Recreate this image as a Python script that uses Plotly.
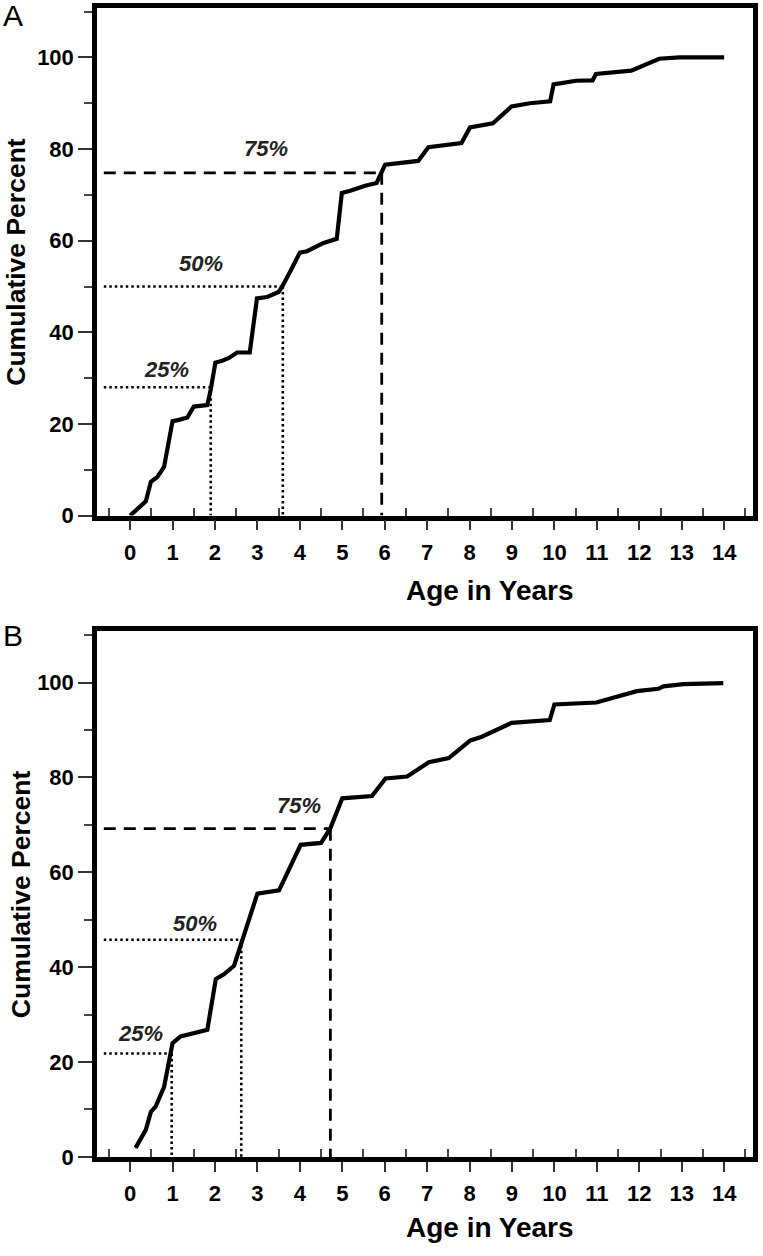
import plotly.graph_objects as go

# ---------------- data ----------------
A_age = [0.0, 0.17, 0.37, 0.49, 0.64, 0.80, 1.00, 1.15, 1.35, 1.50, 1.82, 1.90, 2.01, 2.17, 2.33,
         2.52, 2.82, 2.99, 3.23, 3.50, 3.58, 3.78, 4.00, 4.17, 4.56, 4.87, 4.99, 5.19, 5.54, 5.81,
         5.93, 6.01, 6.79, 7.03, 7.81, 8.01, 8.55, 8.99, 9.42, 9.90, 9.98, 10.51, 10.90, 10.98,
         11.81, 12.16, 12.47, 12.94, 14.0]
A_pct = [0.0, 1.3, 3.1, 7.4, 8.4, 10.6, 20.6, 20.9, 21.4, 23.8, 24.1, 27.5, 33.4, 33.8, 34.4,
         35.6, 35.6, 47.4, 47.7, 48.8, 49.9, 53.4, 57.4, 57.7, 59.5, 60.4, 70.4, 70.9, 72.0, 72.6,
         74.9, 76.6, 77.4, 80.4, 81.3, 84.7, 85.6, 89.3, 90.0, 90.4, 94.1, 94.9, 95.0, 96.4,
         97.1, 98.6, 99.7, 100.0, 100.0]

B_age = [0.13, 0.25, 0.37, 0.49, 0.60, 0.80, 1.00, 1.19, 1.82, 2.02, 2.21, 2.45, 2.64, 3.00, 3.51,
         4.02, 4.50, 4.72, 5.00, 5.70, 6.02, 6.53, 7.04, 7.51, 8.02, 8.29, 8.99, 9.89, 10.00, 10.99,
         11.94, 12.45, 12.57, 13.04, 13.98]
B_pct = [1.9, 3.7, 5.7, 9.5, 10.6, 14.7, 24.0, 25.4, 26.8, 37.5, 38.5, 40.3, 45.8, 55.5, 56.2,
         65.8, 66.2, 69.3, 75.6, 76.1, 79.8, 80.2, 83.2, 84.1, 87.8, 88.6, 91.5, 92.1, 95.4, 95.8,
         98.2, 98.7, 99.2, 99.7, 99.9]

quart_labels = ["25%", "50%", "75%"]
quart_styles = ["dot", "dot", "dash"]

A_levels = [28.0, 50.0, 74.8]
A_ages = [1.9, 3.6, 5.93]
A_lab_x = [0.86, 1.66, 3.2]
A_lab_y = [31.8, 55.0, 80.2]

B_levels = [21.8, 45.8, 69.2]
B_ages = [0.98, 2.62, 4.72]
B_lab_x = [0.25, 1.54, 3.97]
B_lab_y = [26.0, 49.2, 74.0]

line_start = -0.62

x_ticks = list(range(0, 15))
x_minor = [i + 0.5 for i in range(-1, 15)]
y_ticks = list(range(0, 101, 20))
y_minor = list(range(10, 111, 20))

FONT = "Liberation Sans, Arial, sans-serif"
W, H = 763.0, 1256.0

fig = go.Figure()

panels = [
    ("x", "y", A_age, A_pct, A_levels, A_ages, A_lab_x, A_lab_y),
    ("x2", "y2", B_age, B_pct, B_levels, B_ages, B_lab_x, B_lab_y),
]

annotations = []
for xa, ya, ages, pcts, levels, qages, lx, ly in panels:
    for lev, qa, lab, sty, tx, ty in zip(levels, qages, quart_labels, quart_styles, lx, ly):
        dash = "2.5px,3px" if sty == "dot" else "12px,8px"
        width = 2.6 if sty == "dot" else 2.8
        fig.add_trace(go.Scatter(
            x=[line_start, qa, None, qa, qa], y=[lev, lev, None, lev, 0],
            mode="lines", line=dict(color="black", width=width, dash=dash),
            xaxis=xa, yaxis=ya, showlegend=False, hoverinfo="skip"))
        annotations.append(dict(
            x=tx, y=ty, xref=xa, yref=ya, text=lab, showarrow=False,
            xanchor="center", yanchor="middle",
            font=dict(family=FONT, size=22, color="#222", weight="bold", style="italic")))
    fig.add_trace(go.Scatter(
        x=ages, y=pcts, mode="lines", line=dict(color="black", width=4.2),
        xaxis=xa, yaxis=ya, showlegend=False))

tickfont = dict(family=FONT, size=22, color="black", weight="bold")

def xaxis_cfg(anchor):
    return dict(
        anchor=anchor, domain=[97.0 / W, 753.0 / W], range=[-0.78, 14.68],
        showline=True, mirror=True, linewidth=4.5, linecolor="black",
        showgrid=False, zeroline=False,
        tickmode="array", tickvals=x_ticks, ticks="outside", ticklen=10, tickwidth=2,
        tickcolor="#333", tickfont=tickfont, ticklabelstandoff=3,
        minor=dict(tickmode="array", tickvals=x_minor, ticks="inside", ticklen=8,
                   tickwidth=1.5, tickcolor="#444", showgrid=False),
    )

def yaxis_cfg(anchor, dom):
    return dict(
        anchor=anchor, domain=dom, range=[0, 110.8],
        showline=True, mirror=True, linewidth=4.5, linecolor="black",
        showgrid=False, zeroline=False,
        tickmode="array", tickvals=y_ticks, ticks="outside", ticklen=14, tickwidth=2,
        tickcolor="#333", tickfont=tickfont,
        minor=dict(tickmode="array", tickvals=y_minor, ticks="outside", ticklen=8,
                   tickwidth=1.5, tickcolor="#444", showgrid=False),
    )

domA = [1 - 521.0 / H, 1 - 8.0 / H]
domB = [1 - 1169.0 / H, 1 - 638.0 / H]

ytitlefont = dict(family=FONT, size=26.5, color="black", weight="bold")
xtitlefont = dict(family=FONT, size=28, color="black", weight="bold")

for yc, ytitle_x in [((domA[0] + domA[1]) / 2, 16), ((domB[0] + domB[1]) / 2, 21)]:
    annotations.append(dict(x=ytitle_x / W, y=yc, xref="paper", yref="paper",
                            text="Cumulative Percent", textangle=-90, showarrow=False,
                            font=ytitlefont, xanchor="center", yanchor="middle"))

for yc in [597, 1240]:
    annotations.append(dict(x=490 / W, y=1 - yc / H, xref="paper", yref="paper",
                            text="Age in Years", showarrow=False, font=xtitlefont,
                            xanchor="center", yanchor="middle"))

for lab, yc in [("A", 16), ("B", 642)]:
    annotations.append(dict(x=13 / W, y=1 - yc / H, xref="paper", yref="paper", text=lab,
                            showarrow=False, xanchor="center", yanchor="middle",
                            font=dict(family=FONT, size=30, color="black")))

fig.update_layout(
    width=763, height=1256, autosize=False,
    margin=dict(l=0, r=0, t=0, b=0),
    paper_bgcolor="white", plot_bgcolor="white",
    xaxis=xaxis_cfg("y"), yaxis=yaxis_cfg("x", domA),
    xaxis2=xaxis_cfg("y2"), yaxis2=yaxis_cfg("x2", domB),
    annotations=annotations,
    showlegend=False,
)

fig.write_html(
    "out.html",
    config={"displayModeBar": False},
    post_script="document.body.style.margin='0';document.body.style.padding='0';"
                "document.body.style.overflow='hidden';",
)
